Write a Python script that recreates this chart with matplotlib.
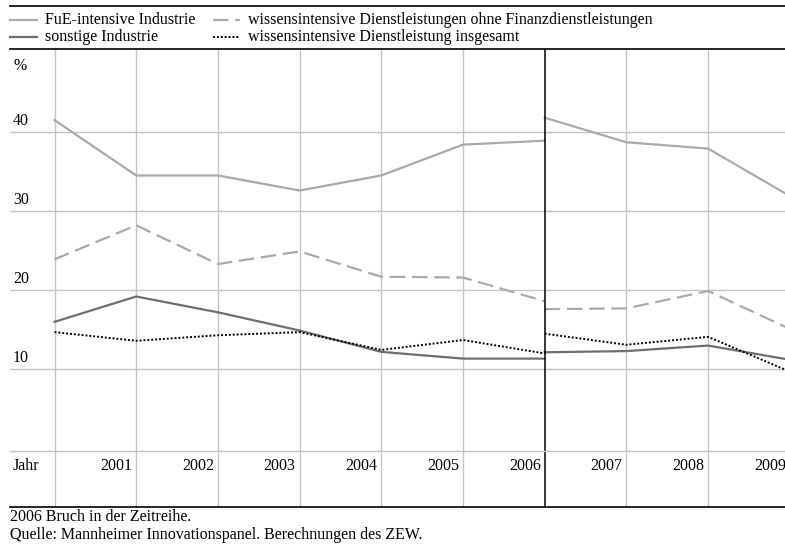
import numpy as np
import matplotlib
matplotlib.use("Agg")
import matplotlib.pyplot as plt
from matplotlib.lines import Line2D
from matplotlib import transforms

plt.rcParams['font.family'] = ['Liberation Serif', 'DejaVu Serif']
plt.rcParams['font.size'] = 11.5

# Daten (2006: Bruch in der Zeitreihe)
jahre_alt = [2000, 2001, 2002, 2003, 2004, 2005, 2006]
jahre_neu = [2006, 2007, 2008, 2009]

fue_alt = [41.5, 34.5, 34.5, 32.6, 34.5, 38.4, 38.9]
fue_neu = [41.8, 38.7, 37.9, 31.9]
wiss_ohne_alt = [23.9, 28.2, 23.3, 24.9, 21.7, 21.6, 18.6]
wiss_ohne_neu = [17.6, 17.7, 19.9, 15.1]
sonst_alt = [16.0, 19.2, 17.2, 14.9, 12.2, 11.35, 11.35]
sonst_neu = [12.15, 12.3, 13.0, 11.2]
wiss_ges_alt = [14.7, 13.6, 14.3, 14.7, 12.45, 13.7, 12.0]
wiss_ges_neu = [14.5, 13.1, 14.1, 9.7]

y_ticks = [10, 20, 30, 40]
x_ticks = [2001, 2002, 2003, 2004, 2005, 2006, 2007, 2008, 2009]

W, H = 785, 546
fig = plt.figure(figsize=(W / 100, H / 100), dpi=100)


def fx(px):
    return px / W


def fy(py):
    return 1 - py / H


ax = fig.add_axes([fx(10), fy(507), fx(775), (507 - 49) / H])
ax.set_xlim(1999.455, 2008.941)
ax.set_ylim(-7.41, 50.49)
ax.set_xticks([])
ax.set_yticks([])
for s in ['left', 'right']:
    ax.spines[s].set_visible(False)
ax.spines['top'].set_linewidth(1.2)
ax.spines['bottom'].set_linewidth(1.2)

grid_c = '#c4c4c4'
for v in y_ticks:
    ax.axhline(v, color=grid_c, lw=1.0, zorder=1)
for j in range(2000, 2010):
    if j == 2006:
        ax.axvline(j, color='black', lw=1.1, zorder=4)
    else:
        ax.axvline(j, color=grid_c, lw=1.0, zorder=1)

c_hell = '#aaaaaa'
c_dunkel = '#6e6e6e'
stil = {
    'fue': dict(color=c_hell, lw=1.6, ls='-'),
    'ohne': dict(color=c_hell, lw=1.6, ls=(0, (7, 3))),
    'sonst': dict(color=c_dunkel, lw=1.6, ls='-'),
    'ges': dict(color='black', lw=1.4, ls=(0, (1, 1))),
}

for alt, neu, k in [(fue_alt, fue_neu, 'fue'), (wiss_ohne_alt, wiss_ohne_neu, 'ohne'),
                    (sonst_alt, sonst_neu, 'sonst'), (wiss_ges_alt, wiss_ges_neu, 'ges')]:
    ax.plot(jahre_alt, alt, zorder=3, **stil[k])
    ax.plot(jahre_neu, neu, zorder=3, **stil[k])

# y-Beschriftungen oberhalb der Gitterlinien
off = transforms.offset_copy(ax.get_yaxis_transform(), fig=fig, x=3, y=3, units='dots')
for v in y_ticks:
    ax.text(0, v, str(v), transform=off, ha='left', va='bottom')
fig.text(fx(13), fy(66), '%', ha='left', va='center')

# Jahr-Zeile
fig.add_artist(Line2D([fx(10), 1], [fy(451), fy(451)], color=grid_c, lw=1.0))
fig.text(fx(13), fy(466), 'Jahr', ha='left', va='center')
xoff = transforms.offset_copy(transforms.blended_transform_factory(ax.transData, fig.transFigure),
                              fig=fig, x=-4, y=0, units='dots')
for j in x_ticks:
    ax.text(j, fy(466), str(j), transform=xoff, ha='right', va='center', clip_on=False)

# Legende
fig.add_artist(Line2D([fx(10), 1], [fy(6), fy(6)], color='black', lw=1.2))
leg = [
    (10, 20, 'fue', 'FuE-intensive Industrie'),
    (10, 37, 'sonst', 'sonstige Industrie'),
    (213, 20, 'ohne', 'wissensintensive Dienstleistungen ohne Finanzdienstleistungen'),
    (213, 37, 'ges', 'wissensintensive Dienstleistung insgesamt'),
]
for x0, y0, k, txt in leg:
    fig.add_artist(Line2D([fx(x0), fx(x0 + 27)], [fy(y0), fy(y0)], **stil[k]))
    fig.text(fx(x0 + 35), fy(y0), txt, ha='left', va='center')

# Fußnoten
fig.text(fx(10), fy(517), '2006 Bruch in der Zeitreihe.', ha='left', va='center')
fig.text(fx(10), fy(535), 'Quelle: Mannheimer Innovationspanel. Berechnungen des ZEW.',
         ha='left', va='center')

fig.savefig('out.png', dpi=100)
